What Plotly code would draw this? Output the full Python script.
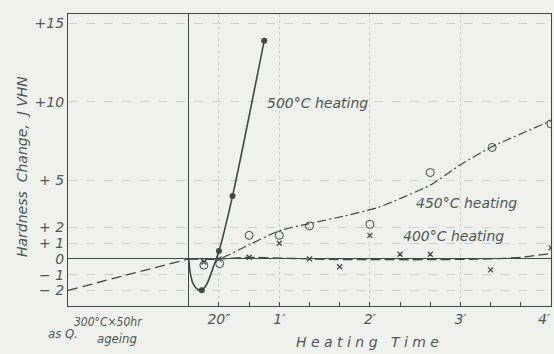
import plotly.graph_objects as go

# ---- data (time in seconds; negative = pre-treatment region) ----
pre_t = [-80, 0]
pre_y = [-2, 0]

t500_pts = [8.6, 20, 29, 50]
y500_pts = [-2.0, 0.5, 4.0, 13.9]
t500_curve = [0, 1, 3, 6, 8.6, 12, 16, 20, 29, 50]
y500_curve = [0, -0.9, -1.6, -1.95, -2.0, -1.6, -0.6, 0.5, 4.0, 13.9]

t450_pts = [10, 20.5, 40, 60, 80, 120, 160, 201, 240]
y450_pts = [-0.4, -0.3, 1.5, 1.5, 2.1, 2.2, 5.5, 7.1, 8.6]
t450_curve = [0, 20, 40, 60, 80, 104, 126, 160, 180, 200, 240]
y450_curve = [0, 0, 0.9, 1.8, 2.25, 2.75, 3.3, 4.7, 6.0, 7.1, 8.8]

t400_pts = [10, 20, 40, 60, 80, 100, 120, 140, 160, 200, 240]
y400_pts = [-0.2, 0, 0.1, 1.0, 0, -0.5, 1.5, 0.3, 0.3, -0.7, 0.7]
t400_curve = [0, 20, 40, 60, 80, 100, 120, 160, 200, 220, 240]
y400_curve = [0, 0, 0.1, 0.05, 0, -0.05, -0.05, -0.05, 0, 0.1, 0.35]

x_tickvals = [20, 60, 120, 180, 240]
x_ticktext = ["20″", "1′", "2′", "3′", ""]
x_last_label = "4′"
x_minor = [40, 80, 100, 140, 160, 200, 220]
y_tickvals = [-2, -1, 0, 1, 2, 5, 10, 15]
y_ticktext = ["− 2", "− 1", "0", "+ 1", "+ 2", "+ 5", "+10", "+15"]

INK = "#3c4a45"
TXT = "#4d5752"
GRID = "#c9cfca"
BG = "#eff1ed"
FONT = "DejaVu Sans"
FONT_C = "DejaVu Sans Condensed, Liberation Sans Narrow, DejaVu Sans"

fig = go.Figure()
fig.add_trace(go.Scatter(x=pre_t, y=pre_y, mode="lines",
                         line=dict(color=INK, width=1.3, dash="10px,5px")))
fig.add_trace(go.Scatter(x=t500_curve, y=y500_curve, mode="lines", line_shape="spline",
                         line=dict(color=INK, width=1.6, smoothing=0.8)))
fig.add_trace(go.Scatter(x=t500_pts, y=y500_pts, mode="markers",
                         marker=dict(color=INK, size=6)))
fig.add_trace(go.Scatter(x=t450_curve, y=y450_curve, mode="lines", line_shape="spline",
                         line=dict(color=INK, width=1.2, dash="9px,3px,2px,3px", smoothing=0.5)))
fig.add_trace(go.Scatter(x=t450_pts, y=y450_pts, mode="markers",
                         marker=dict(symbol="circle-open", color=INK, size=8, line=dict(width=1))))
fig.add_trace(go.Scatter(x=t400_curve, y=y400_curve, mode="lines", line_shape="spline",
                         line=dict(color=INK, width=1.3, dash="10px,4px", smoothing=0.6)))
fig.add_trace(go.Scatter(x=t400_pts, y=y400_pts, mode="markers",
                         marker=dict(symbol="x-thin", color=INK, size=5, line=dict(width=1.3, color=INK))))

def ann(text, x, y, size=14, angle=0, xanchor="center", family=FONT):
    fig.add_annotation(text="<i>" + text + "</i>", x=x, y=y, xref="paper", yref="paper",
                       showarrow=False, textangle=angle, xanchor=xanchor, yanchor="middle",
                       font=dict(family=family, size=size, color=TXT))

L, T, W, H = 68, 14, 483, 292
def px(xp): return (xp - L) / W
def py(yp): return (T + H - yp) / H

ann("500°C heating", px(317), py(103))
ann("450°C heating", px(466), py(203))
ann("400°C heating", px(453), py(236))
ann("H e a t i n g   T i m e", px(367), py(342), size=14)
ann("as Q.", px(63), py(333), size=13, family=FONT_C)
ann("300°C×50hr", px(108), py(322), size=12, family=FONT_C)
ann("ageing", px(117), py(339), size=13, family=FONT_C)
ann("Hardness  Change,  J VHN", px(22), py(167), size=14, angle=-90)
# last x tick label, kept inside the figure edge
fig.add_annotation(text="<i>" + x_last_label + "</i>", x=1.0, y=0, xref="paper", yref="paper",
                   xshift=2, yshift=-13, showarrow=False, xanchor="right", yanchor="middle",
                   font=dict(family=FONT, size=14, color=TXT))

fig.update_layout(
    width=554, height=354,
    margin=dict(l=L, r=554 - L - W, t=T, b=354 - T - H, autoexpand=False),
    paper_bgcolor=BG, plot_bgcolor=BG,
    showlegend=False,
    font=dict(family=FONT, color=TXT),
)
fig.update_xaxes(range=[-80, 240], tickmode="array", tickvals=x_tickvals, ticktext=x_ticktext,
                 automargin=False,
                 ticks="inside", ticklen=4, tickcolor=INK,
                 tickfont=dict(size=14, family=FONT, color=TXT, style="italic"),
                 showgrid=True, gridcolor=GRID, griddash="dot", gridwidth=1,
                 minor=dict(tickvals=x_minor, ticks="inside", ticklen=4, tickcolor=INK, showgrid=False),
                 zeroline=True, zerolinecolor=INK, zerolinewidth=1.2,
                 showline=True, linecolor=INK, linewidth=1.2, mirror=True)
fig.update_yaxes(range=[-3.0, 15.6], tickmode="array", tickvals=y_tickvals, ticktext=y_ticktext,
                 automargin=False,
                 ticks="", tickfont=dict(size=14, family=FONT, color=TXT, style="italic"),
                 showgrid=True, gridcolor=GRID, griddash="dash", gridwidth=1,
                 zeroline=True, zerolinecolor=INK, zerolinewidth=1.2,
                 showline=True, linecolor=INK, linewidth=1.2, mirror=True)

fig.write_html("out.html", config={"displayModeBar": False},
               post_script="document.body.style.margin='0';document.body.style.background='%s';" % BG)
